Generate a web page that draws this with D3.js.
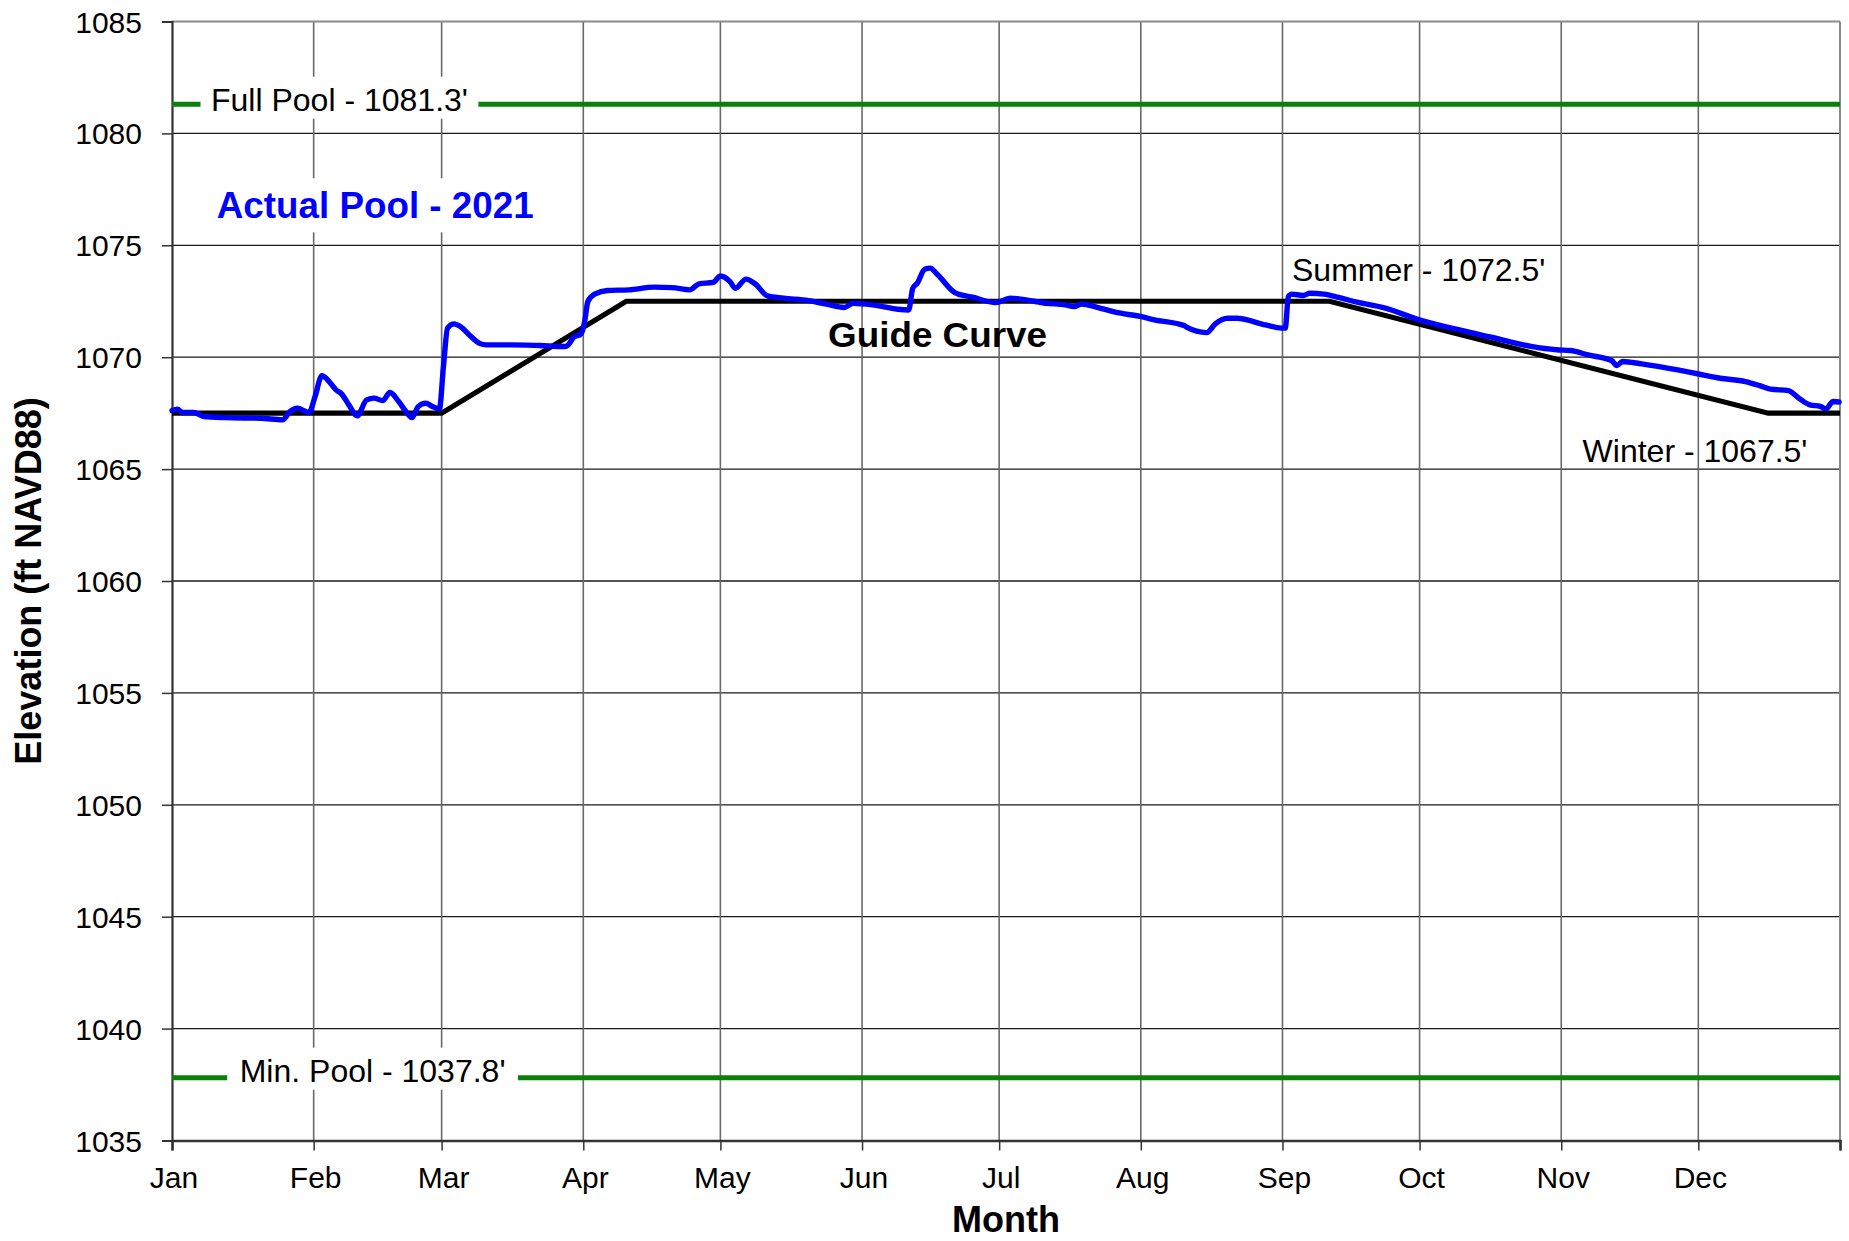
<!DOCTYPE html>
<html>
<head>
<meta charset="utf-8">
<script src="https://cdn.jsdelivr.net/npm/d3@7"></script>
<style>
  html, body { margin: 0; padding: 0; background: #fff; }
  svg { display: block; font-family: "Liberation Sans", Arial, sans-serif; }
</style>
</head>
<body>
<svg id="chart" width="1849" height="1241"></svg>
<script>
// ---- Data ----
const monthLabels = ["Jan","Feb","Mar","Apr","May","Jun","Jul","Aug","Sep","Oct","Nov","Dec"];
const monthStartDays = [0,31,59,90,120,151,181,212,243,273,304,334];
const yearEndDay = 365;
const yTicks = [1035,1040,1045,1050,1055,1060,1065,1070,1075,1080,1085];

const fullPool = 1081.3;
const minPool = 1037.8;

// Guide curve (day of year, elevation)
const guideDays = [0, 59, 99.4, 253.3, 349.3, 365];
const guideElev = [1067.5, 1067.5, 1072.5, 1072.5, 1067.5, 1067.5];

// Actual pool 2021 (day of year, elevation)
const poolDays = [
  0, 1.2, 2.3, 4.7, 7, 11.7, 19.5, 24.2, 25.8, 27.4, 30, 31.3, 32.8, 34.4, 35.9, 37.1, 38.7, 40.5,
  42.6, 44.2, 46.1, 47.7, 49.6, 51.2, 52.5, 53.9, 55.5, 57, 58.5, 59.4, 60.3, 61.7, 63.3, 65.3,
  67.2, 68.8, 74.2, 80.5, 86, 86.7, 87.9, 89.5, 90.3, 91, 92.6, 95.3, 100, 105.5, 109.4, 113.3,
  115.3, 118.4, 120, 122.1, 123.3, 125.6, 127.6, 130.3, 133.8, 139.3, 143.2, 147.1, 149, 153.3,
  158.8, 161.2, 162.1, 163.1, 164.7, 165.9, 167.4, 171.3, 175.2, 180.3, 183.4, 186.9, 191.2,
  195.5, 197.4, 199, 202.5, 206.4, 211.9, 215, 221.6, 222, 226.4, 228.3, 231, 233, 239.3, 242.8,
  243.6, 244.3, 245, 247.5, 249, 252.1, 255.3, 259.3, 265.5, 272.9, 281, 288.9, 297.4, 302.9,
  306, 309.9, 315, 316.2, 317.4, 321.6, 329.5, 333.8, 338.8, 344.3, 347.4, 349.8, 353.7, 356,
  358.4, 360.7, 361.9, 363.5, 364.8
];
const poolElev = [
  1067.62, 1067.68, 1067.53, 1067.53, 1067.35, 1067.30, 1067.27, 1067.20, 1067.57, 1067.72, 1067.53,
  1068.24, 1069.17, 1068.91, 1068.54, 1068.36, 1067.87, 1067.38,
  1068.09, 1068.17, 1068.06, 1068.42, 1068.02, 1067.57, 1067.30, 1067.80, 1067.94, 1067.80, 1067.68,
  1069.58, 1071.30, 1071.49, 1071.34, 1070.95,
  1070.63, 1070.55, 1070.55, 1070.52, 1070.48, 1070.55, 1070.89, 1071.04, 1071.59, 1072.49, 1072.83,
  1072.98, 1073.01, 1073.13, 1073.11, 1073.01,
  1073.28, 1073.34, 1073.63, 1073.38, 1073.08, 1073.49, 1073.28, 1072.74, 1072.64, 1072.53, 1072.37,
  1072.22, 1072.41, 1072.34,
  1072.14, 1072.11, 1073.08, 1073.31, 1073.93, 1073.98, 1073.72, 1072.89, 1072.68, 1072.44, 1072.64,
  1072.56, 1072.41,
  1072.34, 1072.26, 1072.38, 1072.23, 1072.01, 1071.82, 1071.67, 1071.40, 1071.34, 1071.10, 1071.49,
  1071.74, 1071.74, 1071.44, 1071.30,
  1071.30, 1072.71, 1072.82, 1072.76, 1072.86, 1072.82, 1072.67, 1072.46, 1072.19, 1071.67, 1071.25,
  1070.88, 1070.48, 1070.33,
  1070.30, 1070.10, 1069.85, 1069.63, 1069.81, 1069.70, 1069.43, 1069.26, 1069.06, 1068.91, 1068.73,
  1068.57, 1068.51, 1068.17,
  1067.87, 1067.80, 1067.69, 1068.02, 1068.00
];

// ---- Layout ----
const svg = d3.select("#chart");
const plotL = 172, plotR = 1840, plotT = 21.5, plotB = 1140.5;

const x = d3.scaleLinear().domain([0, yearEndDay]).range([plotL, plotR]);
const y = d3.scaleLinear().domain([1035, 1085]).range([plotB, plotT]);

// Horizontal gridlines
svg.append("g").selectAll("line").data(yTicks.slice(1, -1)).join("line")
  .attr("x1", plotL).attr("x2", plotR)
  .attr("y1", d => y(d)).attr("y2", d => y(d))
  .attr("stroke", "#1a1a1a").attr("stroke-width", 1.3);

// Vertical gridlines
svg.append("g").selectAll("line").data(monthStartDays.slice(1)).join("line")
  .attr("x1", d => x(d)).attr("x2", d => x(d))
  .attr("y1", plotT).attr("y2", plotB)
  .attr("stroke", "#6a6a6a").attr("stroke-width", 1.6);

// Plot border: top/right gray
svg.append("line").attr("x1", plotL).attr("x2", plotR).attr("y1", plotT).attr("y2", plotT)
  .attr("stroke", "#8a8a8a").attr("stroke-width", 2);
svg.append("line").attr("x1", plotR).attr("x2", plotR).attr("y1", plotT).attr("y2", plotB)
  .attr("stroke", "#8a8a8a").attr("stroke-width", 2);

// Axes
const yAxis = d3.axisLeft(y).tickValues(yTicks).tickSize(10).tickPadding(20).tickFormat(d3.format("d"));
const gy = svg.append("g").attr("transform", `translate(${plotL},0)`).call(yAxis);
gy.select(".domain").attr("stroke", "#333").attr("stroke-width", 2.2);
gy.selectAll(".tick line").attr("stroke", "#333").attr("stroke-width", 1.5);
gy.selectAll(".tick text").attr("font-size", 30).attr("fill", "#000")
  .attr("font-family", "Liberation Sans, Arial, sans-serif").attr("dy", "0.35em");

const xAxis = d3.axisBottom(x).tickValues(monthStartDays.concat([yearEndDay]))
  .tickSize(10).tickPadding(0).tickFormat(() => "");
const gx = svg.append("g").attr("transform", `translate(0,${plotB})`).call(xAxis);
gx.select(".domain").attr("stroke", "#333").attr("stroke-width", 2.6);
gx.selectAll(".tick line").attr("stroke", "#333").attr("stroke-width", 1.5);

svg.append("g").selectAll("text").data(monthLabels).join("text")
  .attr("x", (d, i) => x(monthStartDays[i]) + 2)
  .attr("y", 1188)
  .attr("text-anchor", "middle")
  .attr("font-size", 30)
  .text(d => d);

// Full / Min pool lines
[fullPool, minPool].forEach(v => {
  svg.append("line").attr("x1", plotL).attr("x2", plotR)
    .attr("y1", y(v)).attr("y2", y(v))
    .attr("stroke", "#0a800a").attr("stroke-width", 5);
});

// Guide curve
const lineGen = d3.line().x(d => x(d[0])).y(d => y(d[1]));
svg.append("path")
  .datum(d3.zip(guideDays, guideElev))
  .attr("d", lineGen)
  .attr("fill", "none").attr("stroke", "#000").attr("stroke-width", 5.2)
  .attr("stroke-linejoin", "miter");

// Actual pool
svg.append("path")
  .datum(d3.zip(poolDays, poolElev))
  .attr("d", d3.line().x(d => x(d[0])).y(d => y(d[1])).curve(d3.curveMonotoneX))
  .attr("fill", "none").attr("stroke", "#0000ff").attr("stroke-width", 5.4)
  .attr("stroke-linejoin", "round").attr("stroke-linecap", "round");

// Labels with white boxes
function boxedLabel(txt, tx, ty, opts) {
  const g = svg.append("g");
  const rect = g.append("rect").attr("fill", "#fff");
  const t = g.append("text").attr("x", tx).attr("y", ty)
    .attr("font-size", opts.size).attr("font-weight", opts.weight || "normal")
    .attr("fill", opts.color || "#000").text(txt);
  if (opts.len) t.attr("textLength", opts.len).attr("lengthAdjust", "spacingAndGlyphs");
  const bb = t.node().getBBox();
  rect.attr("x", bb.x - opts.padX).attr("y", bb.y - opts.padT)
    .attr("width", bb.width + 2 * opts.padX).attr("height", bb.height + opts.padT + opts.padB);
}
boxedLabel("Full Pool - 1081.3'", 211, 110.7, {size: 32, padX: 10.5, padT: 5, padB: 1});
boxedLabel("Min. Pool - 1037.8'", 239.7, 1081.7, {size: 32, padX: 12.5, padT: 5, padB: 1});
boxedLabel("Actual Pool - 2021", 216.7, 218.3, {size: 37, weight: "bold", color: "#0000ff", len: 317, padX: 10, padT: 7, padB: 6});

// Plain annotations
svg.append("text").attr("x", 828).attr("y", 347.3).attr("font-size", 35).attr("font-weight", "bold")
  .attr("textLength", 219).attr("lengthAdjust", "spacingAndGlyphs").text("Guide Curve");
svg.append("text").attr("x", 1292).attr("y", 280.5).attr("font-size", 32).text("Summer - 1072.5'");
svg.append("text").attr("x", 1582.6).attr("y", 461.7).attr("font-size", 32).text("Winter - 1067.5'");

// Axis titles
svg.append("text").attr("x", (plotL + plotR) / 2).attr("y", 1232)
  .attr("text-anchor", "middle").attr("font-size", 36).attr("font-weight", "bold").text("Month");
svg.append("text")
  .attr("transform", `translate(41,${(plotT + plotB) / 2}) rotate(-90)`)
  .attr("text-anchor", "middle").attr("font-size", 36).attr("font-weight", "bold")
  .text("Elevation (ft NAVD88)");
</script>
</body>
</html>
